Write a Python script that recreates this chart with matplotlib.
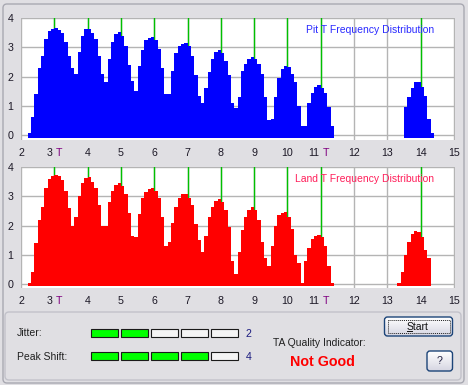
import numpy as np
import matplotlib.pyplot as plt
import matplotlib.transforms as mtransforms
from matplotlib.colors import LinearSegmentedColormap
from matplotlib.patches import Rectangle, FancyBboxPatch

# =====================================================
# Data
# =====================================================

BIN_W = 0.1

# Pit histogram, bins of 0.1 T, first bin centred at the start value
pit_main_start = 2.25
pit_main = [
    0.07, 0.63, 1.40, 2.30, 2.70, 3.30, 3.55, 3.63, 3.66, 3.60,
    3.50, 3.20, 2.70, 2.30, 2.10, 2.85, 3.40, 3.62, 3.65, 3.50,
    3.30, 2.70, 2.10, 1.80, 2.60, 3.20, 3.45, 3.52, 3.40, 3.05,
    2.40, 1.85, 1.50, 2.35, 2.90, 3.25, 3.33, 3.35, 3.25, 2.95,
    2.30, 1.40, 1.40, 2.20, 2.80, 3.05, 3.13, 3.14, 3.05, 2.70,
    2.05, 1.35, 1.10, 1.60, 2.15, 2.60, 2.85, 2.91, 2.82, 2.55,
    2.05, 1.10, 0.92, 1.30, 2.20, 2.45, 2.60, 2.66, 2.62, 2.45,
    2.10, 1.30, 0.50, 0.55, 1.30, 1.95, 2.25, 2.36, 2.33, 2.10,
    1.80, 1.00, 0.31, 0.31, 1.10, 1.45, 1.65, 1.71, 1.60, 1.45,
    0.95, 0.30,
]
pit_tail_start = 13.55
pit_tail = [0.95, 1.30, 1.60, 1.80, 1.83, 1.65, 1.35, 0.55, 0.07]

# Land histogram
land_main_start = 2.25
land_main = [
    0.05, 0.40, 1.40, 2.20, 2.65, 3.30, 3.60, 3.70, 3.74, 3.70,
    3.55, 3.20, 2.60, 2.00, 2.30, 3.00, 3.45, 3.62, 3.66, 3.50,
    3.30, 2.70, 2.00, 2.00, 2.80, 3.20, 3.40, 3.45, 3.35, 3.10,
    2.45, 1.65, 1.60, 2.40, 2.95, 3.15, 3.25, 3.28, 3.20, 2.95,
    2.30, 1.30, 1.45, 2.10, 2.65, 2.95, 3.07, 3.10, 2.95, 2.70,
    2.05, 1.50, 1.10, 1.65, 2.30, 2.65, 2.85, 2.90, 2.80, 2.55,
    1.95, 0.80, 0.33, 1.10, 1.85, 2.30, 2.52, 2.63, 2.55, 2.20,
    1.45, 0.90, 0.60, 1.30, 2.00, 2.35, 2.45, 2.48, 2.30, 1.90,
    1.00, 0.72, 0.03, 0.80, 1.25, 1.55, 1.65, 1.68, 1.60, 1.30,
    0.60, 0.05,
]
land_tail_start = 13.35
land_tail = [0.05, 0.40, 1.00, 1.45, 1.70, 1.83, 1.78, 1.60, 1.17, 0.90]

x_ticks = list(range(2, 16))
x_tick_labels = ['2', '3 T', '4', '5', '6', '7', '8', '9', '10', '11 T',
                 '12', '13', '14', '15']
y_ticks = [0, 1, 2, 3, 4]
t_marks = [3, 4, 5, 6, 7, 8, 9, 10, 11, 14]

jitter_level = 2
peak_shift_level = 4
n_boxes = 5
quality_text = 'Not Good'

# =====================================================
# Style
# =====================================================

W, H = 468, 385
BG = '#e0dfe3'
GRID = '#b4b4b4'
GREEN = '#00c000'
LABEL = '#1c1826'

plt.rcParams['font.family'] = ['Liberation Sans', 'DejaVu Sans']

fig = plt.figure(figsize=(W / 100, H / 100), dpi=100, facecolor=BG)

# background canvas in pixel coordinates
bg = fig.add_axes([0, 0, 1, 1], zorder=0)
bg.set_axis_off()


def px_axes(left, top, right, bottom):
    return fig.add_axes([left / W, 1 - bottom / H, (right - left) / W,
                         (bottom - top) / H], zorder=1)


def draw_dist(ax, segments, color, ylim, title, title_xy, title_color):
    ax.set_facecolor('white')
    ax.set_xlim(2, 15.03)
    ax.set_ylim(*ylim)
    base = ylim[0] + 0.02

    for v in x_ticks:
        ax.axvline(v, color=GRID, lw=1, zorder=0)
    for v in y_ticks:
        ax.axhline(v, color=GRID, lw=1, zorder=0)
    for v in t_marks:
        ax.axvline(v, color=GREEN, lw=1, zorder=1)

    for start, vals in segments:
        vals = np.array(vals)
        centers = start + BIN_W * np.arange(len(vals))
        edges = np.append(centers - BIN_W / 2, centers[-1] + BIN_W / 2)
        ax.stairs(vals, edges, baseline=base, fill=True, color=color,
                  linewidth=0, antialiased=False, zorder=2)
        # little white notches along the bottom edge
        comb = np.concatenate([centers - BIN_W / 4, centers + BIN_W / 4])
        ax.scatter(comb, np.full(comb.shape, base + 0.01), s=0.7,
                   marker='s', color='white', linewidths=0, zorder=3)

    for s in ax.spines.values():
        s.set_visible(False)
    ax.set_xticks([])
    ax.set_yticks(y_ticks)
    ax.tick_params(axis='y', length=0, pad=5.5, labelsize=7.7,
                   labelcolor=LABEL)

    # x labels, "T" parts in purple
    for v, lab in zip(x_ticks, x_tick_labels):
        if lab.endswith(' T'):
            num = lab[:-2]
            tr = mtransforms.offset_copy(ax.get_xaxis_transform(), fig=fig,
                                         x=-1.5, y=-13, units='dots')
            ax.text(v, 0, num, transform=tr, ha='right', va='center',
                    fontsize=7.7, color=LABEL, clip_on=False)
            tr = mtransforms.offset_copy(ax.get_xaxis_transform(), fig=fig,
                                         x=1.5, y=-13, units='dots')
            ax.text(v, 0, 'T', transform=tr, ha='left', va='center',
                    fontsize=7.7, color='#800080', clip_on=False)
        else:
            tr = mtransforms.offset_copy(ax.get_xaxis_transform(), fig=fig,
                                         x=0, y=-13, units='dots')
            ax.text(v, 0, lab, transform=tr, ha='center', va='center',
                    fontsize=7.7, color=LABEL, clip_on=False)

    ax.text(title_xy[0], title_xy[1], title, transform=bg.transData,
            ha='right', va='center', fontsize=7.5, color=title_color,
            zorder=5)


ax_pit = px_axes(21, 18, 455, 140)
draw_dist(ax_pit, [(pit_main_start, pit_main), (pit_tail_start, pit_tail)],
          '#0000ff', (-0.171, 4.01), 'Pit T Frequency Distribution',
          (434, 30), '#2a2aff')

ax_land = px_axes(21, 167, 455, 288)
draw_dist(ax_land, [(land_main_start, land_main), (land_tail_start, land_tail)],
          '#ff0000', (-0.137, 4.01), 'Land T Frequency Distribution',
          (434, 179), '#ff1f5a')

# =====================================================
# Frames and indicator panel
# =====================================================

bg.add_patch(FancyBboxPatch((3, 4), 461, 379,
                            boxstyle='round,pad=0,rounding_size=4',
                            fill=False, edgecolor='#a9a9b2', lw=1))
bg.add_patch(FancyBboxPatch((5, 312), 456, 68,
                            boxstyle='round,pad=0,rounding_size=4',
                            fill=False, edgecolor='#c2c2ca', lw=1))

bg.text(17, 333.5, 'Jitter:', ha='left', va='center', fontsize=7.5,
        color='#202020')
bg.text(17, 356.5, 'Peak Shift:', ha='left', va='center', fontsize=7.5,
        color='#202020')

for row_y, level in [(329.3, jitter_level), (352.3, peak_shift_level)]:
    for i in range(n_boxes):
        face = '#00ff00' if i < level else '#f4f4f4'
        bg.add_patch(Rectangle((91.3 + i * 30, row_y), 27, 8,
                               facecolor=face, edgecolor='#1a1a1a', lw=0.8))
    bg.text(248.5, row_y + 4.3, str(level), ha='center', va='center',
            fontsize=7.7, color='#1c1c80')

bg.text(273, 343, 'TA Quality Indicator:', ha='left', va='center',
        fontsize=7.5, color='#202020')
bg.text(322, 361.5, quality_text, ha='center', va='center', fontsize=10.3,
        fontweight='bold', color='#ff0000')

# buttons
grad = np.linspace(0, 1, 32).reshape(-1, 1)
btn_cmap = LinearSegmentedColormap.from_list('btn', ['#ffffff', '#d6d6e2'])
for (x0, y0, w, h) in [(384.5, 317, 68, 19), (427, 351, 25.5, 20)]:
    btn = FancyBboxPatch((x0, y0), w, h,
                         boxstyle='round,pad=0,rounding_size=3',
                         facecolor='none', edgecolor='#1c4478', lw=1,
                         zorder=3)
    bg.add_patch(btn)
    img = bg.imshow(grad, cmap=btn_cmap, extent=(x0, x0 + w, y0 + h, y0),
                    aspect='auto', zorder=2)
    img.set_clip_path(btn)

bg.add_patch(Rectangle((387.5, 320), 62, 13, fill=False,
                       edgecolor='#202020', lw=0.7, ls=(0, (1, 1)), zorder=4))
bg.text(417.5, 326.7, 'Start', ha='center', va='center', fontsize=7.5,
        color='#101010', zorder=5)
bg.plot([407.3, 411.6], [331.2, 331.2], color='#101010', lw=0.7, zorder=5)
bg.text(439.7, 361.2, '?', ha='center', va='center', fontsize=7.7,
        color='#202040', zorder=5)

bg.set_xlim(0, W)
bg.set_ylim(H, 0)

fig.savefig('out.png', dpi=100, facecolor=fig.get_facecolor())
